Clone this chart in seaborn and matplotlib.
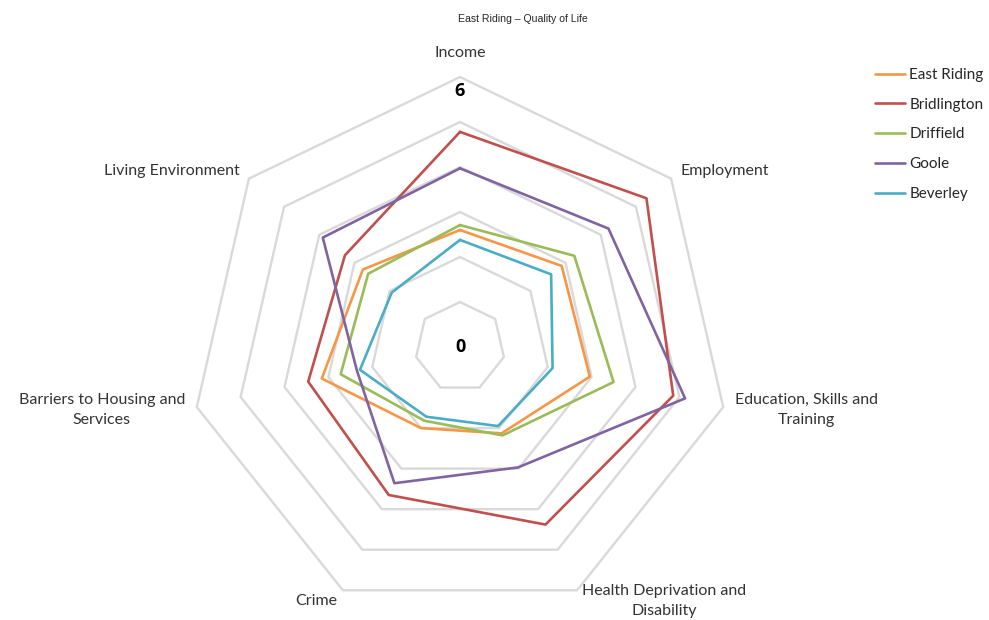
import numpy as np
import pandas as pd
import matplotlib
matplotlib.use("Agg")
import matplotlib.pyplot as plt
from matplotlib.lines import Line2D
import seaborn as sns

# Index of deprivation domains (radar spokes, clockwise from the top)
categories = ["Income", "Employment", "Education, Skills and\nTraining",
              "Health Deprivation and\nDisability", "Crime",
              "Barriers to Housing and\nServices", "Living Environment"]
areas = ["East Riding", "Bridlington", "Driffield", "Goole", "Beverley"]

east_riding = [2.60, 2.89, 2.96, 2.13, 2.00, 3.15, 2.76]
bridlington = [4.78, 5.30, 4.86, 4.38, 3.65, 3.46, 3.27]
driffield = [2.71, 3.25, 3.50, 2.18, 1.82, 2.72, 2.61]
goole = [3.97, 4.22, 5.13, 2.97, 3.36, 2.35, 3.90]
beverley = [2.38, 2.59, 2.11, 1.95, 1.72, 2.28, 1.94]

scale_ticks = [1, 2, 3, 4, 5, 6]
scale_min, scale_max = 0, 6
colors = ["#F79646", "#C0504D", "#9BBB59", "#8064A2", "#4BACC6"]

series = dict(zip(areas, [east_riding, bridlington, driffield, goole, beverley]))
n = len(categories)
theta = np.linspace(0, 2 * np.pi, n + 1)  # closed loop

rows = []
for area, vals in series.items():
    closed = list(vals) + [vals[0]]
    for t, v in zip(theta, closed):
        rows.append({"theta": t, "value": v, "area": area})
df = pd.DataFrame(rows)

sns.set_theme(style="white")
plt.rcParams["font.family"] = ["Lato", "DejaVu Sans"]

fig = plt.figure(figsize=(9.89, 6.20), dpi=100)
ax = fig.add_axes([190 / 989, 3 / 620, 540 / 989, 540 / 620], projection="polar")
ax.set_theta_offset(np.pi / 2)
ax.set_theta_direction(-1)

# heptagonal gridlines
for r in scale_ticks:
    ax.plot(theta, [r] * (n + 1), color="#D9D9D9", lw=1.7, zorder=1, clip_on=False)

sns.lineplot(data=df, x="theta", y="value", hue="area", hue_order=areas,
             palette=colors, sort=False, estimator=None, lw=1.9, ax=ax,
             legend=False, zorder=3)
for line in ax.lines:
    line.set_clip_on(False)

ax.set_ylim(scale_min, scale_max)
ax.grid(False)
ax.set_xticks([])
ax.set_yticks([])
ax.set_xlabel("")
ax.set_ylabel("")
ax.spines["polar"].set_visible(False)
ax.patch.set_alpha(0)

# spoke labels
label_pos = [(6.53, "center"), (6.27, "left"), (6.27, "left"), (6.27, "left"),
             (6.27, "right"), (6.27, "right"), (6.27, "right")]
for t, lab, (r, ha) in zip(theta[:-1], categories, label_pos):
    ax.text(t, r, lab, ha=ha, va="center", multialignment="center",
            fontsize=11.5, color="#333333", linespacing=1.55)

# scale end labels
ax.text(0, scale_max * 0.948, str(scale_max), ha="center", va="center",
        fontsize=13, fontweight="bold", color="black",
        family=["Open Sans", "DejaVu Sans"])
ax.text(0, scale_min, str(scale_min), ha="center", va="center",
        fontsize=13, fontweight="bold", color="black",
        family=["Open Sans", "DejaVu Sans"])

fig.text(0.529, 0.969, "East Riding \u2013 Quality of Life", ha="center",
         va="center", fontsize=7.6, color="#262626",
         family=["Liberation Sans", "DejaVu Sans"])

handles = [Line2D([], [], color=c, lw=1.9) for c in colors]
fig.legend(handles, areas, loc="upper left", bbox_to_anchor=(875 / 989, 1 - 68 / 620),
           frameon=False, fontsize=11, handlelength=1.95, handletextpad=0.3,
           labelspacing=1.03, borderaxespad=0, borderpad=0)

fig.savefig("out.png", dpi=100, facecolor="white")
